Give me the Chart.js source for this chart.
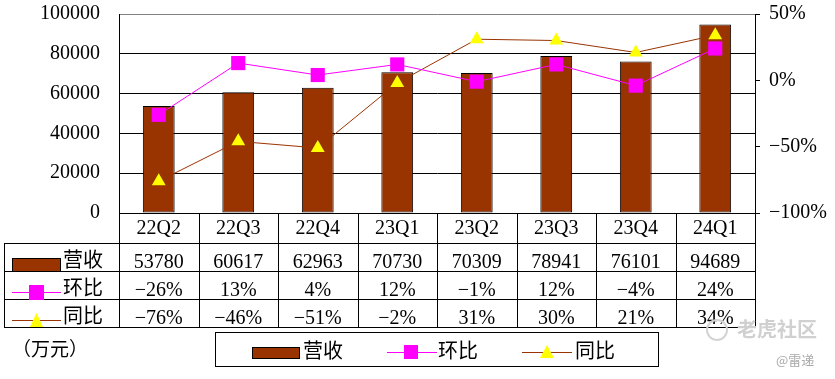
<!DOCTYPE html>
<html>
<head>
<meta charset="utf-8">
<script src="https://cdn.jsdelivr.net/npm/chart.js@4.4.0/dist/chart.umd.min.js"></script>
<style>
  body { margin: 0; background: #fff; }
  #wrap { position: relative; width: 835px; height: 379px; }
</style>
</head>
<body>
<div id="wrap"><canvas id="myChart"></canvas></div>
<script>
const categories = ['22Q2', '22Q3', '22Q4', '23Q1', '23Q2', '23Q3', '23Q4', '24Q1'];
const revenue = [53780, 60617, 62963, 70730, 70309, 78941, 76101, 94689];   // 营收
const qoq = [-26, 13, 4, 12, -1, 12, -4, 24];                                // 环比 %
const yoy = [-76, -46, -51, -2, 31, 30, 21, 34];                             // 同比 %

const BAR = '#993300', PINK = '#ff00ff', YEL = '#ffff00'
const NUM = '20px "Liberation Serif", "Noto Sans CJK SC"'
const CJK = '20px "Noto Sans CJK SC"'

const pct = v => (v < 0 ? '\u2212' + (-v) : '' + v) + '%'

function drawBarKey(ctx, x, y, w, h) {
    ctx.fillStyle = BAR
    ctx.fillRect(x, y, w, h)
    ctx.strokeStyle = '#000'
    ctx.lineWidth = 1
    ctx.strokeRect(x + 0.5, y + 0.5, w - 1, h - 1)
}
function drawSquareKey(ctx, x1, x2, y, sx, sy, s) {
    ctx.strokeStyle = PINK
    ctx.lineWidth = 1
    ctx.beginPath(); ctx.moveTo(x1, y + 0.5); ctx.lineTo(x2, y + 0.5); ctx.stroke()
    ctx.fillStyle = PINK
    ctx.fillRect(sx, sy, s, s)
}
function drawTriKey(ctx, x1, x2, y, cx, top, w, h) {
    ctx.strokeStyle = BAR
    ctx.lineWidth = 1
    ctx.beginPath(); ctx.moveTo(x1, y + 0.5); ctx.lineTo(x2, y + 0.5); ctx.stroke()
    ctx.fillStyle = YEL
    ctx.beginPath()
    ctx.moveTo(cx, top); ctx.lineTo(cx + w / 2, top + h); ctx.lineTo(cx - w / 2, top + h)
    ctx.closePath(); ctx.fill()
}

// data table under the axis, the legend box and the small texts
const tablePlugin = {
    id: 'table',
    afterDraw(chart) {
        const ctx = chart.ctx, x = chart.scales.x, area = chart.chartArea
        const half = (x.getPixelForValue(1) - x.getPixelForValue(0)) / 2
        const rows = [243, 271, 299, 327]
        ctx.save()

        // cells
        ctx.strokeStyle = '#000'
        ctx.lineWidth = 1
        ctx.beginPath()
        rows.forEach(y => { ctx.moveTo(4, y + 0.5); ctx.lineTo(Math.round(area.right) + 1, y + 0.5) })
        ctx.moveTo(4.5, rows[0]); ctx.lineTo(4.5, rows[3] + 1)
        for (let i = 0; i <= categories.length; i++) {
            const px = i < categories.length ? x.getPixelForValue(i) - half : x.getPixelForValue(i - 1) + half
            ctx.moveTo(Math.round(px) + 0.5, area.bottom); ctx.lineTo(Math.round(px) + 0.5, rows[3] + 1)
        }
        ctx.stroke()

        // clip keys to their cells
        ctx.save()
        ctx.beginPath(); ctx.rect(5, rows[0] + 1, 113, rows[3] - rows[0] - 1); ctx.clip()
        drawBarKey(ctx, 12, 258, 49, 14)
        drawSquareKey(ctx, 12, 61, 292, 29, 285, 15)
        drawTriKey(ctx, 12, 61, 320, 36.5, 313, 14, 15)
        ctx.restore()

        ctx.fillStyle = '#000'
        ctx.textBaseline = 'alphabetic'
        ctx.textAlign = 'left'
        ctx.font = CJK
        ctx.fillText('营收', 63, 267)
        ctx.fillText('环比', 63, 295)
        ctx.fillText('同比', 63, 323)

        ctx.textAlign = 'center'
        ctx.font = NUM
        for (let i = 0; i < categories.length; i++) {
            const cx = x.getPixelForValue(i)
            ctx.fillText(revenue[i], cx, 268)
            ctx.fillText(pct(qoq[i]), cx, 296)
            ctx.fillText(pct(yoy[i]), cx, 324)
        }

        // unit
        ctx.textAlign = 'left'
        ctx.font = '19px "Noto Sans CJK SC"'
        ctx.fillText('（万元）', 12, 356)

        // legend box
        ctx.strokeStyle = '#000'
        ctx.strokeRect(215.5, 332.5, 443, 34)
        drawBarKey(ctx, 252, 347, 48, 12)
        drawSquareKey(ctx, 387, 437, 352, 404, 345, 14)
        drawTriKey(ctx, 522, 572, 352, 547, 345, 14, 13)
        ctx.fillStyle = '#000'
        ctx.font = CJK
        ctx.fillText('营收', 303, 358)
        ctx.fillText('环比', 438, 358)
        ctx.fillText('同比', 575, 358)

        // watermark
        ctx.strokeStyle = '#d4d4d4'
        ctx.lineWidth = 2
        ctx.beginPath(); ctx.arc(717, 330, 10, 0, Math.PI * 2); ctx.stroke()
        ctx.fillStyle = '#d0d0d0'
        ctx.font = 'bold 20px "Noto Sans CJK SC"'
        ctx.fillText('老虎社区', 737, 337)
        ctx.fillStyle = '#a8a8a8'
        ctx.font = '13px "Noto Sans CJK SC"'
        ctx.fillText('@雷递', 776, 365)

        ctx.restore()
    }
}

const data = {
    labels: categories,
    datasets: [
        {
            type: 'line',
            label: '环比',
            data: qoq,
            yAxisID: 'y1',
            borderColor: PINK,
            borderWidth: 1,
            pointStyle: 'rect',
            pointRadius: 10,
            pointBackgroundColor: PINK,
            pointBorderWidth: 0,
            order: 1,
        },
        {
            type: 'line',
            label: '同比',
            data: yoy,
            yAxisID: 'y1',
            borderColor: BAR,
            borderWidth: 1,
            pointStyle: 'triangle',
            pointRadius: 8,
            pointBackgroundColor: YEL,
            pointBorderWidth: 0,
            order: 2,
        },
        {
            type: 'bar',
            label: '营收',
            data: revenue,
            yAxisID: 'y',
            backgroundColor: BAR,
            borderColor: '#000',
            borderWidth: 1,
            borderSkipped: false,
            categoryPercentage: 1,
            barPercentage: 0.4,
            order: 3,
        },
    ]
}

// keep the plot box where the reference has it
const noPad = s => { s.paddingTop = 0; s.paddingBottom = 0 }

const config = {
    type: 'bar',
    data: data,
    options: {
        responsive: true,
        maintainAspectRatio: false,
        animation: false,
        layout: { padding: { top: 14, left: 0, right: 0, bottom: 0 } },
        plugins: { legend: { display: false }, tooltip: { enabled: false } },
        scales: {
            x: {
                offset: true,
                grid: { display: false, drawTicks: false },
                border: { display: false },
                ticks: { color: '#000', font: { size: 20 }, padding: 4, maxRotation: 0 },
                afterFit: s => { s.height = 166 },
            },
            y: {
                position: 'left',
                min: 0,
                max: 100000,
                ticks: { stepSize: 20000, color: '#000', font: { size: 20 }, padding: 19, callback: v => '' + v },
                grid: {
                    color: c => (c.tick && c.tick.value === 100000 ? '#808080' : '#000'),
                    lineWidth: 1,
                    drawTicks: false,
                },
                border: { display: true, color: '#000' },
                afterFit: s => { s.width = 119; noPad(s) },
            },
            y1: {
                position: 'right',
                min: -100,
                max: 50,
                ticks: { stepSize: 50, color: '#000', font: { size: 20 }, padding: 9, callback: v => pct(v) },
                grid: { drawOnChartArea: false, drawTicks: true, tickLength: 5, color: '#000' },
                border: { display: true, color: '#000' },
                afterFit: s => { s.width = 80; noPad(s) },
            },
        }
    },
    plugins: [tablePlugin]
}

Chart.defaults.font.family = '"Liberation Serif", "Noto Sans CJK SC"'
Chart.defaults.color = '#000'

let myChart = new Chart(document.querySelector('#myChart'), config)
</script>
</body>
</html>
